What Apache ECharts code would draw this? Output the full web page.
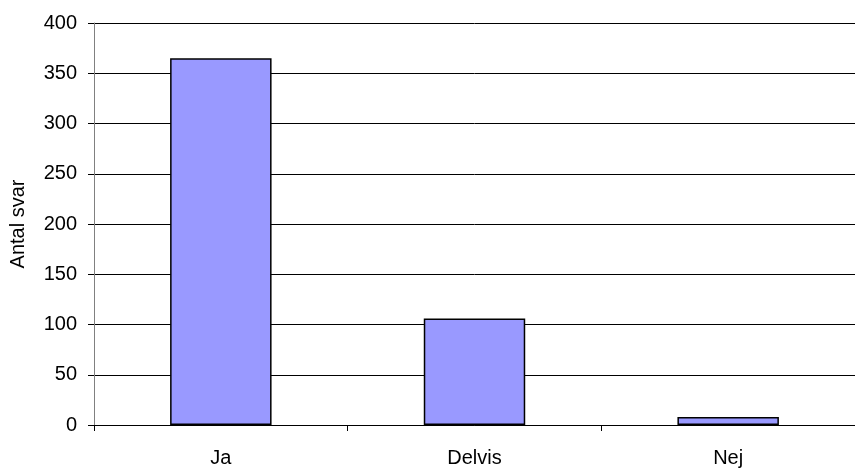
<!DOCTYPE html>
<html>
<head>
<meta charset="utf-8">
<script src="https://cdn.jsdelivr.net/npm/echarts@6/dist/echarts.min.js"></script>
<style>
  html, body { margin: 0; padding: 0; background: #fff; }
  #chart { width: 855px; height: 468px; }
</style>
</head>
<body>
<div id="chart"></div>
<script>
var categories = ['Ja', 'Delvis', 'Nej']
var answers = [365, 106, 8]
var yTicks = [0, 50, 100, 150, 200, 250, 300, 350, 400]

var chart = echarts.init(document.getElementById('chart'))
var option = {
  animation: false,
  grid: { left: 94, right: -8, top: 23, bottom: 41 },
  textStyle: { fontFamily: 'Liberation Sans, Arial, sans-serif' },
  xAxis: {
    type: 'category',
    data: categories,
    axisLine: { lineStyle: { color: '#000', width: 1 } },
    axisTick: { show: true, length: 6, lineStyle: { color: '#000' } },
    axisLabel: { color: '#000', fontSize: 20, margin: 23 }
  },
  yAxis: {
    type: 'value',
    min: yTicks[0],
    max: yTicks[yTicks.length - 1],
    interval: 50,
    name: 'Antal svar',
    nameLocation: 'middle',
    nameGap: 66,
    nameTextStyle: { color: '#000', fontSize: 20 },
    axisLine: { show: true, lineStyle: { color: '#808080', width: 1 } },
    axisTick: { show: true, length: 6, lineStyle: { color: '#000' } },
    axisLabel: { color: '#000', fontSize: 20, margin: 17 },
    splitLine: { show: true, lineStyle: { color: '#000', width: 1 } }
  },
  series: [{
    type: 'bar',
    data: answers,
    barWidth: '40%',
    itemStyle: { color: '#9999ff', borderColor: '#000', borderWidth: 1.5 }
  }]
}
chart.setOption(option)
</script>
</body>
</html>
